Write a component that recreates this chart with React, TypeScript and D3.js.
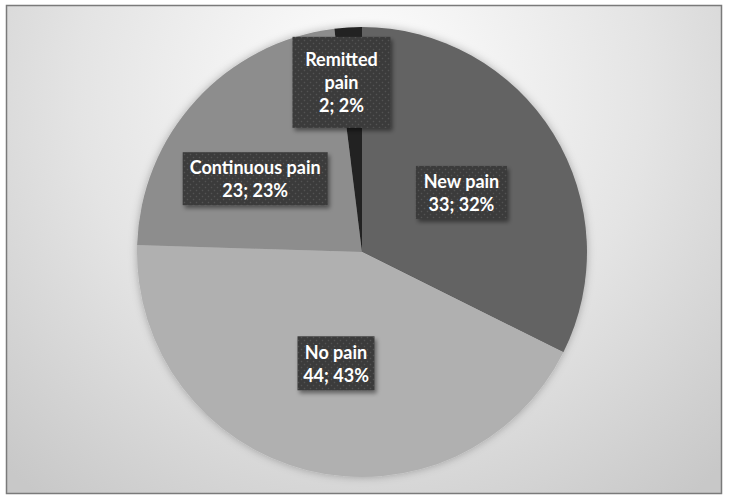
import React from "react";
import * as d3 from "d3";

// Survey outcome categories, in drawing order (clockwise from 12 o'clock)
const categories = ["New pain", "No pain", "Continuous pain", "Remitted pain"];
const counts = [33, 44, 23, 2];
const sliceColors = ["#646464", "#b0b0b0", "#8d8d8d", "#202020"];
// Category text as it is wrapped inside each label box
const labelLines = [["New pain"], ["No pain"], ["Continuous pain"], ["Remitted", "pain"]];

// Label box placement: fraction of radius for the anchor, a nudge, and box size
const labelLayout = [
  { f: 0.52, dx: 0, dy: 2, w: 91, h: 53 },
  { f: 0.51, dx: 2, dy: 0, w: 77, h: 54 },
  { f: 0.51, dx: -22, dy: 4, w: 145, h: 53 },
  { f: 0.76, dx: -10, dy: 1, w: 98, h: 91 },
];

const W = 729;
const H = 501;
const CX = 362;
const CY = 252;
const R = 225;
const LINE_H = 23;
const FONT = "Lato, 'DejaVu Sans', sans-serif";

export default function App() {
  const total = d3.sum(counts);
  const pie = d3
    .pie<number>()
    .sort(null)
    .value((d) => d)(counts);
  const arc = d3.arc<d3.PieArcDatum<number>>().innerRadius(0).outerRadius(R);

  return (
    <svg
      width={W}
      height={H}
      viewBox={`0 0 ${W} ${H}`}
      style={{ position: "absolute", left: 0, top: 0, display: "block" }}
    >
      <defs>
        <radialGradient id="bg" gradientUnits="userSpaceOnUse" cx={364} cy={90} r={520}>
          <stop offset="0" stopColor="#ffffff" />
          <stop offset="0.55" stopColor="#e4e4e4" />
          <stop offset="1" stopColor="#c8c8c8" />
        </radialGradient>
        <pattern id="dots" width={6} height={6} patternUnits="userSpaceOnUse">
          <rect width={6} height={6} fill="#3b3b3b" />
          <circle cx={1.5} cy={1.5} r={0.8} fill="#525252" />
          <circle cx={4.5} cy={4.5} r={0.8} fill="#525252" />
        </pattern>
        <filter id="pieShadow" x="-10%" y="-10%" width="120%" height="120%">
          <feDropShadow dx={0} dy={0} stdDeviation={4} floodColor="#000" floodOpacity={0.28} />
        </filter>
        <filter id="boxShadow" x="-20%" y="-20%" width="150%" height="150%">
          <feDropShadow dx={2} dy={3} stdDeviation={2} floodColor="#000" floodOpacity={0.45} />
        </filter>
      </defs>

      <rect x={0} y={0} width={W} height={H} fill="#ffffff" />
      <rect x={6.5} y={5.5} width={715} height={488} fill="url(#bg)" stroke="#7a7a7a" strokeWidth={1.5} />

      <g transform={`translate(${CX},${CY})`} filter="url(#pieShadow)">
        {pie.map((d, i) => (
          <path key={categories[i]} d={arc(d) || ""} fill={sliceColors[i]} />
        ))}
      </g>

      {pie.map((d, i) => {
        const lay = labelLayout[i];
        const la = d3
          .arc<d3.PieArcDatum<number>>()
          .innerRadius(0)
          .outerRadius(2 * R * lay.f);
        const [px, py] = la.centroid(d);
        const x = CX + px + lay.dx;
        const y = CY + py + lay.dy;
        const pct = Math.round((counts[i] / total) * 100);
        const lines = [...labelLines[i], `${counts[i]}; ${pct}%`];
        const y0 = y - ((lines.length - 1) * LINE_H) / 2;
        return (
          <g key={`lab-${categories[i]}`}>
            <rect
              x={x - lay.w / 2}
              y={y - lay.h / 2}
              width={lay.w}
              height={lay.h}
              fill="url(#dots)"
              filter="url(#boxShadow)"
            />
            <text
              textAnchor="middle"
              fill="#ffffff"
              fontFamily={FONT}
              fontWeight={700}
              fontSize={18}
            >
              {lines.map((t, k) => (
                <tspan key={k} x={x} y={y0 + k * LINE_H} dominantBaseline="central">
                  {t}
                </tspan>
              ))}
            </text>
          </g>
        );
      })}
    </svg>
  );
}
